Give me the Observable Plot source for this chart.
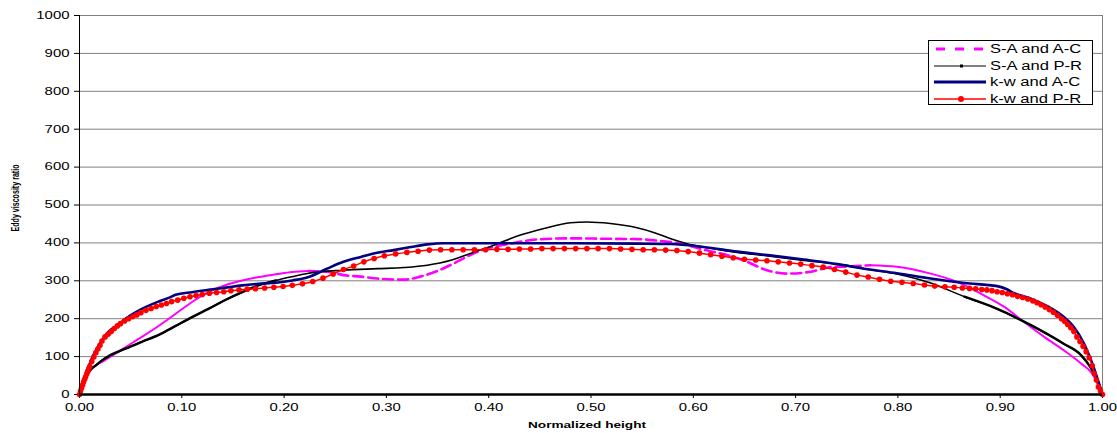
<!DOCTYPE html>
<html><head><meta charset="utf-8">
<script src="https://cdn.jsdelivr.net/npm/d3@7"></script>
<script src="https://cdn.jsdelivr.net/npm/@observablehq/plot@0.6"></script>
<style>
body{margin:0;background:#fff;}
#wrap{position:relative;width:1117px;height:433px;overflow:hidden;font-family:"Liberation Sans",Arial,sans-serif;}
#legend{position:absolute;left:928px;top:40px;width:163px;height:63px;border:1px solid #000;background:#fff;}
.row{position:absolute;left:0;width:163px;height:16px;}
.row svg{position:absolute;left:3px;top:0;}
.row span{position:absolute;left:61px;top:1px;font-size:12px;line-height:14px;transform:scaleX(1.38);transform-origin:0 50%;white-space:nowrap;color:#000;}
</style></head><body><div id="wrap"></div>
<script>
// ---- tick labels / axis text ----
const xTicks = [0, 0.1, 0.2, 0.3, 0.4, 0.5, 0.6, 0.7, 0.8, 0.9, 1.0];
const yTicks = [0, 100, 200, 300, 400, 500, 600, 700, 800, 900, 1000];
const xLabel = "Normalized height";
const yLabel = "Eddy viscosity ratio";
const seriesNames = ["S-A and A-C", "S-A and P-R", "k-w and A-C", "k-w and P-R"];

// ---- S-A and A-C ----
const saAcX = [0,0.006,0.012,0.022,0.035,0.048,0.061,0.078,0.094,0.110,0.126,0.143,0.159,0.175,0.192,0.208,0.224,0.242,0.258,0.275,0.291,0.317,0.333,0.349,0.366,0.382,0.398,0.421,0.447,0.480,0.513,0.545,0.568,0.588,0.610,0.627,0.649,0.672,0.692,0.715,0.734,0.754,0.773,0.799,0.832,0.858,0.881,0.904,0.923,0.943,0.962,0.979,0.990,1.0];
const saAcY = [0,42,68,86,108,130,152,182,213,244,270,289,301,310,317,323,326,324,315,311,306,303,311,325,346,368,385,398,409,412,411,410,405,398,382,372,354,328,319,324,336,338,341,337,319,297,266,231,192,152,117,82,55,0];

// ---- S-A and P-R ----
const saPrX = [0,0.004,0.009,0.016,0.022,0.029,0.045,0.061,0.078,0.094,0.110,0.126,0.143,0.159,0.175,0.192,0.208,0.224,0.258,0.291,0.317,0.340,0.363,0.382,0.405,0.428,0.454,0.480,0.496,0.519,0.545,0.562,0.578,0.594,0.610,0.643,0.675,0.708,0.741,0.767,0.799,0.832,0.865,0.897,0.930,0.962,0.979,0.988,0.995,1.0];
const saPrY = [0,33,60,77,90,102,121,139,158,181,204,226,250,270,288,301,311,320,328,332,335,341,354,372,394,418,438,453,455,451,440,427,411,398,389,375,365,354,344,332,318,294,258,226,183,134,104,73,38,0];

// ---- k-w and A-C ----
const kwAcX = [0,0.006,0.012,0.019,0.029,0.033,0.035,0.045,0.061,0.078,0.089,0.094,0.110,0.126,0.143,0.159,0.175,0.192,0.208,0.224,0.242,0.258,0.275,0.291,0.307,0.324,0.340,0.356,0.389,0.421,0.480,0.545,0.578,0.610,0.643,0.675,0.708,0.741,0.767,0.799,0.832,0.865,0.897,0.907,0.913,0.930,0.946,0.962,0.972,0.982,0.990,1.0];
const kwAcY = [0,51,95,130,167,175,178,200,226,246,257,263,270,276,282,288,292,295,301,310,332,350,363,374,381,389,396,399,399,399,399,398,397,389,377,367,356,344,332,320,306,294,286,277,268,253,233,205,178,134,82,0];

// ---- k-w and P-R ----
const kwPrX = [0,0.001,0.002,0.003,0.004,0.005,0.006,0.007,0.008,0.009,
0.010,0.012,0.014,0.016,0.018,0.020,0.022,0.025,0.028,0.031,
0.034,0.037,0.040,0.044,0.048,0.052,0.056,0.060,0.065,0.070,
0.075,0.080,0.085,0.090,0.096,0.102,0.108,0.114,0.120,0.127,
0.134,0.141,0.148,0.156,0.164,0.172,0.181,0.190,0.199,0.208,
0.218,0.228,0.238,0.248,0.258,0.268,0.278,0.288,0.298,0.309,
0.320,0.331,0.342,0.353,0.364,0.375,0.386,0.397,0.408,0.419,
0.430,0.441,0.452,0.463,0.474,0.485,0.496,0.507,0.518,0.529,
0.540,0.551,0.562,0.573,0.584,0.595,0.606,0.617,0.628,0.639,
0.650,0.661,0.672,0.683,0.694,0.705,0.716,0.727,0.738,0.749,
0.760,0.771,0.782,0.793,0.804,0.815,0.826,0.836,0.846,0.855,
0.863,0.870,0.876,0.882,0.887,0.892,0.897,0.902,0.907,0.912,
0.917,0.922,0.927,0.932,0.936,0.940,0.944,0.948,0.952,0.956,
0.960,0.963,0.966,0.969,0.972,0.975,0.978,0.981,0.984,0.987,
0.990,0.992,0.994,0.996,0.998,1.0];
const kwPrY = [0,9,17,25,33,40,47,54,61,68,
74,87,99,110,120,130,141,152,159,166,
174,181,187,194,200,205,210,216,222,227,
232,236,240,245,249,254,258,261,264,267,
269,271,274,276,278,279,281,283,285,288,
292,298,307,318,330,339,350,359,366,371,
375,378,381,382,382,382,382,382,383,383,
384,384,385,385,385,385,385,385,385,384,
383,382,382,381,380,377,373,369,365,361,
357,355,353,350,347,344,340,336,330,323,
315,310,304,299,296,293,289,286,284,283,
281,280,279,277,276,274,271,269,266,263,
259,256,252,247,242,237,231,224,217,209,
200,193,185,176,166,152,140,127,113,97,
76,55,38,20,9,0];

const colors = {"S-A and A-C": "#FF00FF", "S-A and P-R": "#000000", "k-w and A-C": "#000080", "k-w and P-R": "#FF0000"};

const toRows = (xs, ys) => xs.map((x, i) => ({x, y: ys[i]}));
const saAc = toRows(saAcX, saAcY);
const saPr = toRows(saPrX, saPrY);
const kwAc = toRows(kwAcX, kwAcY);
const kwPr = toRows(kwPrX, kwPrY);

const curve = "monotone-x";

const chart = Plot.plot({
  width: 1117,
  height: 433,
  marginLeft: 79,
  marginRight: 15,
  marginTop: 15,
  marginBottom: 39,
  style: {fontFamily: "'Liberation Sans', Arial, sans-serif", fontSize: "10.5px", color: "#000", background: "#fff", overflow: "visible"},
  x: {domain: [0, 1], ticks: xTicks, tickFormat: d => d.toFixed(2), tickSize: 4, tickPadding: 5, label: null},
  y: {domain: [0, 1000], ticks: yTicks, tickFormat: d => String(d), tickSize: 5, tickPadding: 5, label: null},
  marks: [
    Plot.ruleY(yTicks.filter(d => d > 0), {stroke: "#808080", strokeWidth: 1}),
    Plot.ruleX([1], {stroke: "#808080", strokeWidth: 1}),
    // S-A and A-C : solid near walls, dashed in the core
    Plot.line(saAc.filter(d => d.x <= 0.224), {x: "x", y: "y", stroke: colors["S-A and A-C"], strokeWidth: 2, curve}),
    Plot.line(saAc.filter(d => d.x >= 0.224 && d.x <= 0.773), {x: "x", y: "y", stroke: colors["S-A and A-C"], strokeWidth: 2.6, strokeDasharray: "10,5", curve}),
    Plot.line(saAc.filter(d => d.x >= 0.773), {x: "x", y: "y", stroke: colors["S-A and A-C"], strokeWidth: 2, curve}),
    // S-A and P-R
    Plot.line(saPr, {x: "x", y: "y", stroke: colors["S-A and P-R"], strokeWidth: 1.6, curve}),
    Plot.line(saPr.filter(d => d.x <= 0.2), {x: "x", y: "y", stroke: colors["S-A and P-R"], strokeWidth: 2.4, curve}),
    Plot.line(saPr.filter(d => d.x >= 0.85), {x: "x", y: "y", stroke: colors["S-A and P-R"], strokeWidth: 2.4, curve}),
    // k-w and A-C
    Plot.line(kwAc, {x: "x", y: "y", stroke: colors["k-w and A-C"], strokeWidth: 2.6, curve}),
    // k-w and P-R
    Plot.line(kwPr, {x: "x", y: "y", stroke: colors["k-w and P-R"], strokeWidth: 1.5, curve}),
    Plot.dot(kwPr, {x: "x", y: "y", r: 2.8, fill: colors["k-w and P-R"], stroke: "none"}),
    Plot.ruleX([0], {stroke: "#000", strokeWidth: 1}),
    Plot.ruleY([0], {stroke: "#000", strokeWidth: 2.5}),
    // axis titles
    Plot.text([xLabel], {text: d => d, frameAnchor: "bottom", textAnchor: "middle", dx: -4, dy: 33, fontWeight: "bold", fontSize: 9.5}),
    Plot.text([yLabel], {text: d => d, frameAnchor: "left", textAnchor: "middle", dx: -64, dy: -7, rotate: -90, fontWeight: "bold", fontSize: 7})
  ]
});

const wrap = document.getElementById("wrap");
wrap.append(chart);

chart.querySelectorAll("text").forEach(t => {
  const s = t.textContent;
  if (s === xLabel) {
    t.setAttribute("textLength", "118");
    t.setAttribute("lengthAdjust", "spacingAndGlyphs");
  } else if (s === yLabel) {
    t.setAttribute("textLength", "67");
    t.setAttribute("lengthAdjust", "spacingAndGlyphs");
    const tr = t.getAttribute("transform");
    if (tr) t.setAttribute("transform", tr + " scale(1,1.45)");
  } else {
    const w = t.getComputedTextLength();
    if (w > 0) {
      t.setAttribute("textLength", (w * 1.42).toFixed(1));
      t.setAttribute("lengthAdjust", "spacingAndGlyphs");
    }
  }
});

// ---- legend ----
const legend = document.createElement("div");
legend.id = "legend";
const rowTops = [0, 16.5, 33, 49.5];
const ns = "http://www.w3.org/2000/svg";
seriesNames.forEach((name, i) => {
  const row = document.createElement("div");
  row.className = "row";
  row.style.top = rowTops[i] + "px";
  const svg = document.createElementNS(ns, "svg");
  svg.setAttribute("width", "56");
  svg.setAttribute("height", "16");
  const line = document.createElementNS(ns, "line");
  line.setAttribute("x1", "2"); line.setAttribute("x2", "54");
  line.setAttribute("y1", "8"); line.setAttribute("y2", "8");
  line.setAttribute("stroke", colors[name]);
  if (i === 0) { line.setAttribute("stroke-width", "3"); line.setAttribute("stroke-dasharray", "9,10"); line.setAttribute("x1", "4"); }
  if (i === 1) line.setAttribute("stroke-width", "1");
  if (i === 2) line.setAttribute("stroke-width", "3");
  if (i === 3) line.setAttribute("stroke-width", "1.5");
  svg.append(line);
  if (i === 1) {
    const r = document.createElementNS(ns, "rect");
    r.setAttribute("x", "28"); r.setAttribute("y", "6.5"); r.setAttribute("width", "3"); r.setAttribute("height", "3"); r.setAttribute("fill", "#000");
    svg.append(r);
  }
  if (i === 3) {
    const c = document.createElementNS(ns, "circle");
    c.setAttribute("cx", "29"); c.setAttribute("cy", "8"); c.setAttribute("r", "3"); c.setAttribute("fill", colors[name]);
    svg.append(c);
  }
  const span = document.createElement("span");
  span.textContent = name;
  row.append(svg, span);
  legend.append(row);
});
wrap.append(legend);
</script>
</body></html>
